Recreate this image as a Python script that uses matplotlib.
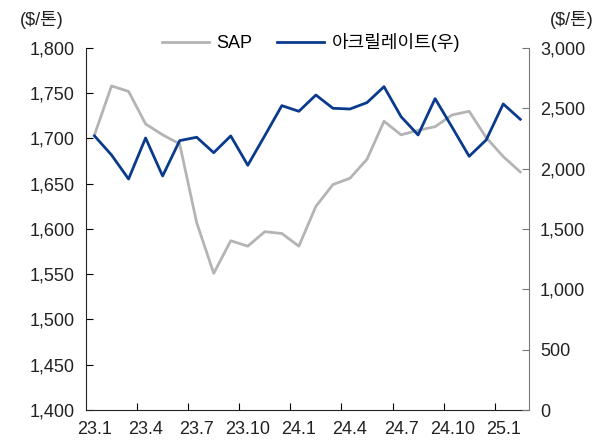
import numpy as np
import matplotlib
matplotlib.use("Agg")
from matplotlib import pyplot as plt
from matplotlib.ticker import FuncFormatter, FixedLocator

plt.rcParams['font.family'] = ['Liberation Sans', 'Noto Sans CJK KR', 'DejaVu Sans']

# monthly, 23.1 ~ 25.2
months = ['23.1', '23.2', '23.3', '23.4', '23.5', '23.6', '23.7', '23.8', '23.9', '23.10',
          '23.11', '23.12', '24.1', '24.2', '24.3', '24.4', '24.5', '24.6', '24.7', '24.8',
          '24.9', '24.10', '24.11', '24.12', '25.1', '25.2']
sap = [1704, 1758, 1752, 1716, 1704, 1694, 1607, 1551, 1587, 1581,
       1597, 1595, 1581, 1625, 1649, 1656, 1677, 1719, 1704, 1709,
       1713, 1726, 1730, 1701, 1680, 1663]
acrylate = [2271, 2113, 1914, 2254, 1939, 2232, 2260, 2132, 2271, 2028,
            2273, 2522, 2475, 2610, 2500, 2494, 2547, 2679, 2431, 2279,
            2580, 2343, 2102, 2238, 2536, 2409]
label_idx = [0, 3, 6, 9, 12, 15, 18, 21, 24]

gray = '#b4b4b4'
navy = '#0a3a8c'

fig = plt.figure(figsize=(6.12, 4.48), dpi=100)
ax = fig.add_axes([0.1405, 0.0848, 0.7235, 0.8082])
ax2 = ax.twinx()

x = np.arange(len(months))
l1, = ax.plot(x, sap, color=gray, lw=2.0, label='SAP')
l2, = ax2.plot(x, acrylate, color=navy, lw=2.0, label='아크릴레이트(우)')
ax.set_zorder(ax2.get_zorder() - 1)
ax.patch.set_visible(True)
ax2.patch.set_visible(False)

ax.set_xlim(-0.5, len(months) - 0.5)
ax.set_ylim(1400, 1800)
ax.set_yticks(np.arange(1400, 1801, 50))
ax2.set_ylim(0, 3000)
ax2.set_yticks(np.arange(0, 3001, 500))
fmt = FuncFormatter(lambda v, p: f'{int(v):,}')
ax.yaxis.set_major_formatter(fmt)
ax2.yaxis.set_major_formatter(fmt)

ax.set_xticks(label_idx)
ax.set_xticklabels([months[i] for i in label_idx])
ax.xaxis.set_minor_locator(FixedLocator([i + 2.5 for i in label_idx[:-1]]))
ax.tick_params(axis='x', which='major', length=0, pad=8, labelsize=13, colors='#222222')
ax.tick_params(axis='x', which='minor', length=5, direction='in', width=0.8)
ax.tick_params(axis='y', length=5, direction='in', width=0.8, pad=8, labelsize=13, labelcolor='#222222')
ax2.tick_params(axis='y', length=5, direction='in', width=0.8, pad=8, labelsize=13,
                labelcolor='#222222', color='#777777')

for a in (ax, ax2):
    a.spines['top'].set_visible(False)
ax.spines['right'].set_visible(False)
ax2.spines['left'].set_visible(False)
ax2.spines['bottom'].set_visible(False)
ax2.spines['right'].set_color('#777777')
ax.spines['left'].set_color('#222222')
ax.spines['bottom'].set_color('#222222')

fig.text(0.068, 0.955, '($/톤)', fontsize=13, ha='center', va='center', color='#222222')
fig.text(0.935, 0.955, '($/톤)', fontsize=13, ha='center', va='center', color='#222222')

fig.legend(handles=[l1, l2], loc='center', bbox_to_anchor=(0.508, 0.905), ncol=2,
           frameon=False, fontsize=13, handlelength=2.6, columnspacing=1.4, handletextpad=0.4)

fig.savefig('out.png', dpi=100)
